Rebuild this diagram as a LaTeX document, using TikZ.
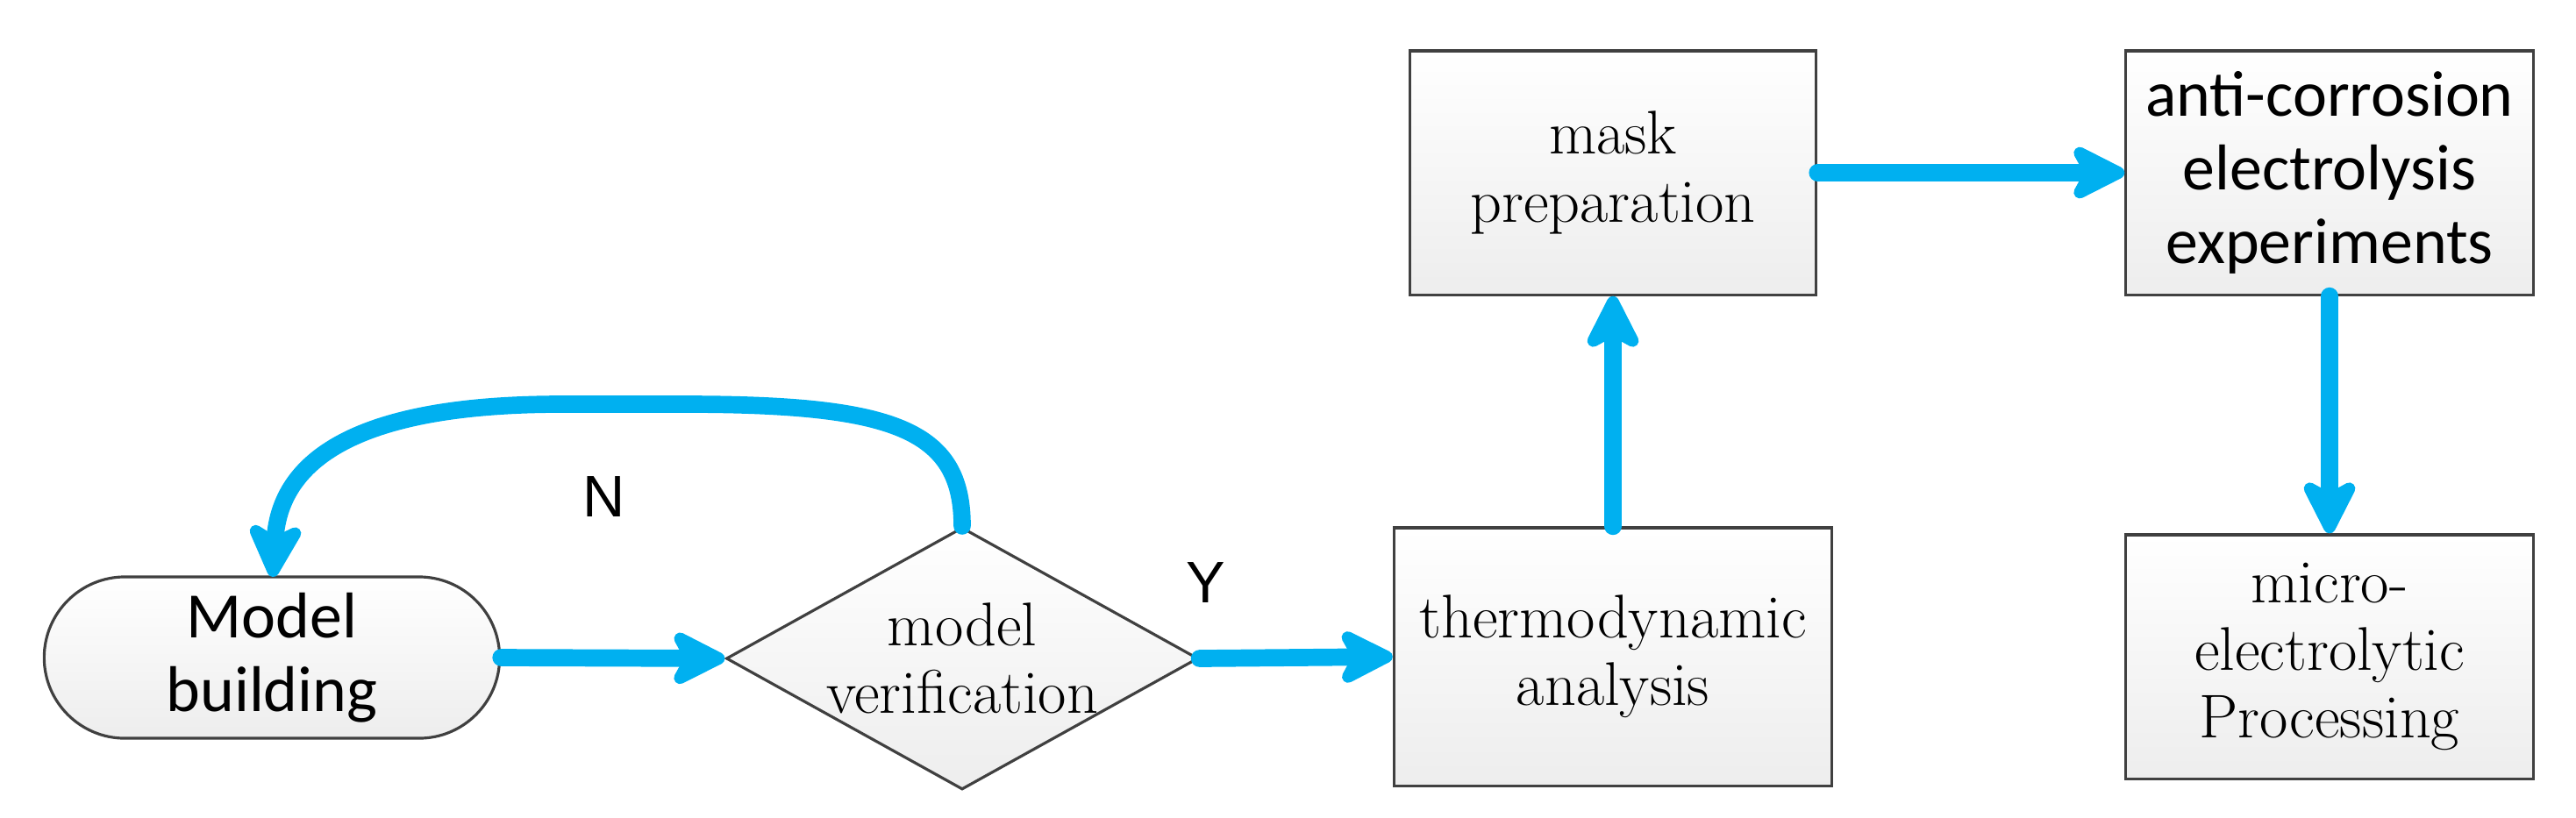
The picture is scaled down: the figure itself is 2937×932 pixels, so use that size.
\documentclass[tikz,border=0pt]{standalone}
\usepackage{fontspec}
\newfontfamily\sansf{Carlito}
\newfontfamily\labf{Liberation Sans}
\usetikzlibrary{shapes.geometric,shapes.misc,arrows.meta}
\definecolor{cy}{HTML}{00B0F0}
\begin{document}
\begin{tikzpicture}[x=0.01cm,y=-0.01cm,
  box/.style={draw=black!75,line width=0.9pt,top color=white,bottom color=black!7,align=center,inner sep=0pt,font=\fontsize{20}{22}\selectfont},
  arr/.style={draw=cy,line width=5.6pt,line cap=round,-{Stealth[length=0.75cm,width=0.75cm,inset=0.2cm,round=false]}},
  lab/.style={font=\labf\fontsize{19}{22}\selectfont}]
\useasboundingbox (0,0) rectangle (2937,932);
\node[box,rounded rectangle,minimum width=5.19cm,minimum height=1.84cm,font=\sansf\fontsize{21}{24}\selectfont] (mb) at (310,750) {Model\\building};
\node[box,diamond,aspect=1.8,minimum width=4.96cm,minimum height=2.74cm] (dv) at (1097,751) {model\\verification};
\node[box,rectangle,minimum width=4.99cm,minimum height=2.94cm] (th) at (1839,749) {thermodynamic\\analysis};
\node[box,rectangle,minimum width=4.63cm,minimum height=2.78cm] (mp) at (1839,197) {mask\\preparation};
\node[box,rectangle,minimum width=4.64cm,minimum height=2.78cm,font=\sansf\fontsize{21}{24}\selectfont] (ae) at (2656,197) {anti-corrosion\\electrolysis\\experiments};
\node[box,rectangle,minimum width=4.64cm,minimum height=2.78cm] (me) at (2656,749) {micro-\\electrolytic\\Processing};
\coordinate (mbt) at (311,658);
\draw[arr] (mb.east) -- (dv.west);
\draw[arr] (dv.east) -- (th.west);
\draw[arr] (th.north) -- (mp.south);
\draw[arr] (mp.east) -- (ae.west);
\draw[arr] (ae.south) -- (me.north);
\draw[arr] (dv.north) .. controls (1097,490) and (1020,461) .. (780,461) -- (640,461) .. controls (380,461) and (318,540) .. (mbt);
\node[lab] (n) at (689,566) {N};
\node[lab] (y) at (1375,664) {Y};
\end{tikzpicture}
\end{document}
